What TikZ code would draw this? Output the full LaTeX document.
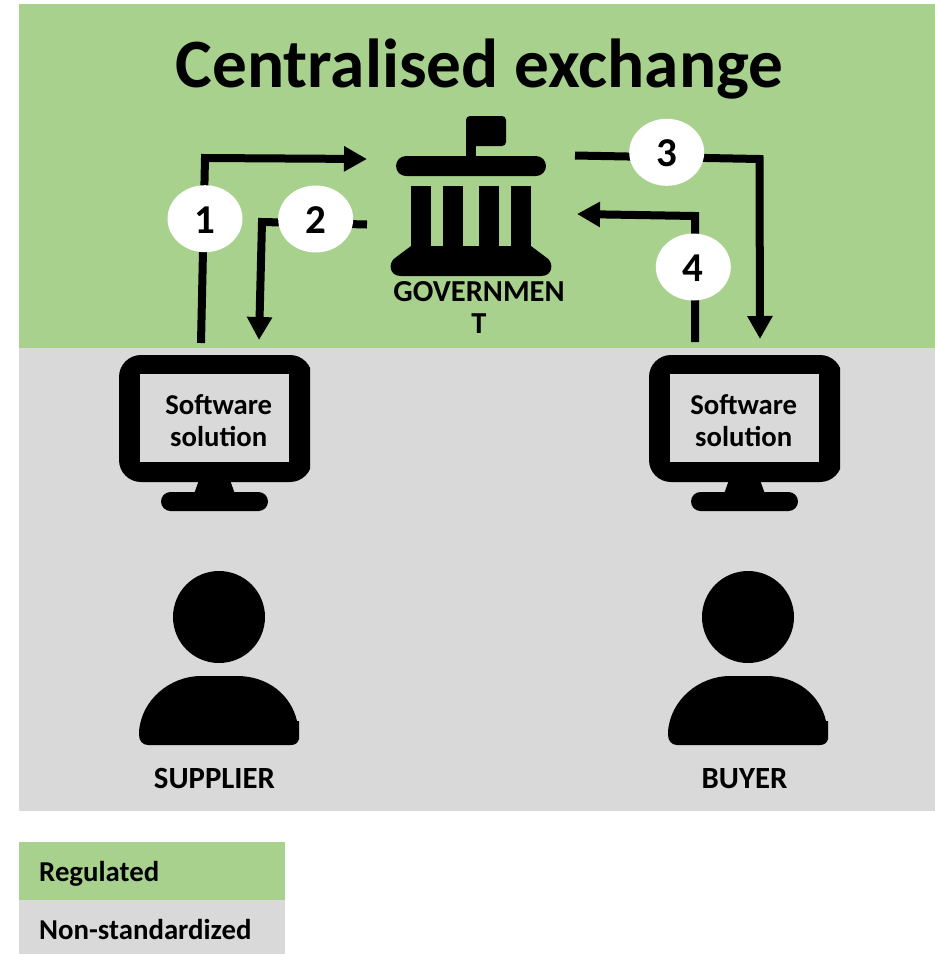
\documentclass[tikz,border=0pt]{standalone}
\usepackage{fontspec}
\setmainfont{Carlito}
\usetikzlibrary{arrows.meta,shapes.geometric}
\definecolor{reggreen}{HTML}{A9D18E}
\definecolor{nongray}{HTML}{D9D9D9}
\tikzset{
  x=1pt,y=-1pt,
  txt/.style={inner sep=0pt,anchor=base,align=center,font=\bfseries\fontsize{#1}{#1}\selectfont},
  conn/.style={line width=8pt,-{Triangle[length=23pt,width=24pt]}},
  badge/.style={ellipse,fill=white,minimum width=75pt,minimum height=67pt,inner sep=0pt},
  digit/.style={inner sep=0pt,anchor=base,font=\bfseries\fontsize{41}{41}\selectfont},
  monitor/.pic={
    \begin{scope}
    \clip (110,350) rectangle (310,490);
    \fill[black,rounded corners=22pt] (119,355) rectangle (312,482);
    \end{scope}
    \fill[nongray] (140,374) rectangle (289,462);
    \fill[black] (199,480) -- (230,480) -- (235,494) -- (194,494) -- cycle;
    \fill[black,rounded corners=9.5pt] (161,492) rectangle (268,511);
  },
  person/.pic={
    \fill[black] (219,617) circle[radius=46];
    \fill[black] (139,735) -- (139,732) .. controls (141,700) and (170,676) .. (201,676)
      -- (237,676) .. controls (268,676) and (291,695) .. (297,721) -- (299,721) -- (299,739)
      .. controls (298,743) and (295,745) .. (291,745) -- (148,745)
      .. controls (143,745) and (139,741) .. (139,735) -- cycle;
  },
}
\begin{document}
\begin{tikzpicture}
\useasboundingbox (0,0) rectangle (935,954);
\fill[white] (0,0) rectangle (935,954);
\fill[reggreen] (19,4) rectangle (935,348);
\fill[nongray] (19,348) rectangle (935,811);
\node[txt=69.3] (title) at (479.5,87) {Centralised exchange};
% government icon
\fill[black] (466,150) rectangle (476,160);
\fill[black,rounded corners=4pt] (466,116) rectangle (506,146);
\fill[black] (466,125) rectangle (476,150);
\fill[black,rounded corners=10pt] (396,156) rectangle (546,176);
\foreach \xa in {411,443,479,511} \fill[black] (\xa,186) rectangle (\xa+20,250);
\fill[black] (411,246) -- (531,246) -- (547,258) .. controls (554,263) and (553,276) .. (541,276)
  -- (401,276) .. controls (389,276) and (388,263) .. (395,258) -- cycle;
\node[txt=30.5] (govA) at (479,301) {GOVERNMEN};
\node[txt=30.5] (govB) at (479,333) {T};
% connectors
\coordinate (a1) at (201,343); \coordinate (a1m) at (205,158); \coordinate (a1e) at (367,159);
\coordinate (a2) at (367,224.5); \coordinate (a2m) at (262,222); \coordinate (a2e) at (259,340);
\coordinate (a3) at (575,155.5); \coordinate (a3m) at (759.5,159); \coordinate (a3e) at (760,339);
\coordinate (a4) at (695,342); \coordinate (a4m) at (695,216); \coordinate (a4e) at (577,214);
\draw[conn] (a1) -- (a1m) -- (a1e);
\draw[conn] (a2) -- (a2m) -- (a2e);
\draw[conn] (a3) -- (a3m) -- (a3e);
\draw[conn] (a4) -- (a4m) -- (a4e);
\node[badge] (b1) at (205,218.7) {};
\node[badge] (b2) at (315.7,219) {};
\node[badge] (b3) at (666.7,152.3) {};
\node[badge] (b4) at (693.3,267) {};
\node[digit] (d1) at (205,233.5) {1};
\node[digit] (d2) at (316,233.5) {2};
\node[digit] (d3) at (667,166.5) {3};
\node[digit] (d4) at (693,281.5) {4};
% monitors and people
\pic at (0,0) {monitor};
\pic at (530,0) {monitor};
\pic at (0,0) {person};
\pic at (529,0) {person};
\node[txt=28.7] (s1a) at (218.7,414) {Software};
\node[txt=28.7] (s1b) at (218.7,446) {solution};
\node[txt=28.7] (s2a) at (743.7,414) {Software};
\node[txt=28.7] (s2b) at (743.7,446) {solution};
\node[txt=30.8] (sup) at (214.5,788) {SUPPLIER};
\node[txt=30.8] (buy) at (744.5,788) {BUYER};
% legend
\fill[reggreen] (19,842) rectangle (285,900);
\fill[nongray] (19,900) rectangle (285,954);
\node[txt=28.8,anchor=base west] (lega) at (39,881) {Regulated};
\node[txt=28.8,anchor=base west] (legb) at (39,939) {Non-standardized};
\end{tikzpicture}
\end{document}
